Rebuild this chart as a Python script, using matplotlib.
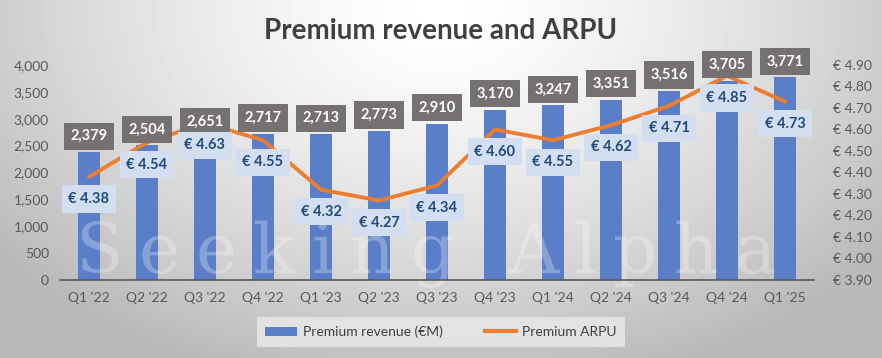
import numpy as np
import matplotlib.pyplot as plt
from matplotlib.ticker import FuncFormatter, MultipleLocator
from matplotlib.patches import Patch
from matplotlib.lines import Line2D

quarters = ["Q1 '22", "Q2 '22", "Q3 '22", "Q4 '22", "Q1 '23", "Q2 '23", "Q3 '23",
            "Q4 '23", "Q1 '24", "Q2 '24", "Q3 '24", "Q4 '24", "Q1 '25"]
revenue = [2379, 2504, 2651, 2717, 2713, 2773, 2910, 3170, 3247, 3351, 3516, 3705, 3771]
arpu = [4.38, 4.54, 4.63, 4.55, 4.32, 4.27, 4.34, 4.60, 4.55, 4.62, 4.71, 4.85, 4.73]

FONT = 'Lato'
plt.rcParams['font.family'] = [FONT, 'DejaVu Sans']

W, H = 882, 358
fig = plt.figure(figsize=(W / 100, H / 100), dpi=100)

# background radial gradient
bg = fig.add_axes([0, 0, 1, 1], zorder=-10)
yy, xx = np.mgrid[0:H, 0:W]
d = np.sqrt(((xx - 441) / 560) ** 2 + ((yy - 10) / 380) ** 2)
val = 1.0 - 0.27 * np.clip(d, 0, 1) ** 1.4
bg.imshow(val, cmap='gray', vmin=0, vmax=1, extent=[0, 1, 0, 1], aspect='auto',
          interpolation='bilinear')
bg.axis('off')

left, right, bottom, top = 60, 814, 280, 65
ax = fig.add_axes([left / W, 1 - bottom / H, (right - left) / W, (bottom - top) / H])
ax.patch.set_alpha(0)
x = np.arange(len(quarters))
bar_color = '#5A7FC8'
line_color = '#ED7D31'
ax.bar(x, revenue, width=0.38, color=bar_color, zorder=2)
ax.set_xlim(-0.5, len(quarters) - 0.5)
ax.set_ylim(0, 4000)
ax.yaxis.set_major_locator(MultipleLocator(500))
ax.yaxis.set_major_formatter(FuncFormatter(lambda v, p: f"{v:,.0f}"))
for s in ['top', 'left', 'right']:
    ax.spines[s].set_visible(False)
ax.spines['bottom'].set_color('#595959')
ax.spines['bottom'].set_linewidth(1.2)
ax.spines['bottom'].set_zorder(5)
ax.tick_params(axis='both', length=0, colors='#595959', labelsize=10)
ax.tick_params(axis='y', pad=8)
ax.tick_params(axis='x', pad=9)
ax.set_xticks(x)
ax.set_xticklabels(quarters)

ax2 = ax.twinx()
ax2.plot(x, arpu, color=line_color, lw=2.8, solid_capstyle='round', zorder=3)
ax2.set_ylim(3.9, 4.9)
ax2.yaxis.set_major_locator(MultipleLocator(0.1))
ax2.yaxis.set_major_formatter(FuncFormatter(lambda v, p: f"€ {v:.2f}"))
for s in ['top', 'left', 'right', 'bottom']:
    ax2.spines[s].set_visible(False)
ax2.tick_params(axis='y', length=0, colors='#595959', labelsize=10, pad=14)

# watermark (drawn letter by letter with tracking, behind the labels)
renderer = fig.canvas.get_renderer()
xpos = 75.0
for ch in "Seeking Alpha":
    t = ax.text(xpos / W, 1 - 273 / H, ch, transform=fig.transFigure, fontsize=50,
                family='DejaVu Serif', color='white', alpha=0.28, va='baseline',
                ha='left', zorder=2.5)
    bb = t.get_window_extent(renderer)
    xpos += bb.width + 16

# labels
for xi, r in zip(x, revenue):
    ax2.annotate(f"{r:,}", (xi, 3.9 + (r / 4000.0)), xytext=(0, 11.5),
                 textcoords='offset points', annotation_clip=False,
                 ha='center', va='center', color='white', fontsize=10.5, fontweight='bold',
                 bbox=dict(boxstyle='square,pad=0.45', fc='#767171', ec='none'), zorder=6)
for xi, a in zip(x, arpu):
    ax2.annotate(f"€ {a:.2f}", (xi, a), xytext=(0, -16), textcoords='offset points',
                 ha='center', va='center', color='#1F4A7C', fontsize=10.5, fontweight='bold',
                 bbox=dict(boxstyle='square,pad=0.45', fc='#D3DFF1', ec='none'), zorder=6)

fig.text(0.5, 1 - 31 / H, "Premium revenue and ARPU", ha='center', va='center',
         fontsize=20, fontweight='bold', color='#404040')

handles = [Patch(facecolor=bar_color, edgecolor='none'),
           Line2D([0], [0], color=line_color, lw=3)]
leg = fig.legend(handles, ["Premium revenue (€M)", "Premium ARPU"], loc='center',
                 bbox_to_anchor=(441 / W, 1 - 332 / H), ncol=2, frameon=True,
                 fontsize=10, labelcolor='#404040', handlelength=2.3, columnspacing=3,
                 handletextpad=0.4, borderpad=0.6, fancybox=False)
leg.get_frame().set_facecolor('#E8E8E8')
leg.get_frame().set_edgecolor('none')
leg.get_frame().set_alpha(0.85)

fig.savefig('out.png', dpi=100)
